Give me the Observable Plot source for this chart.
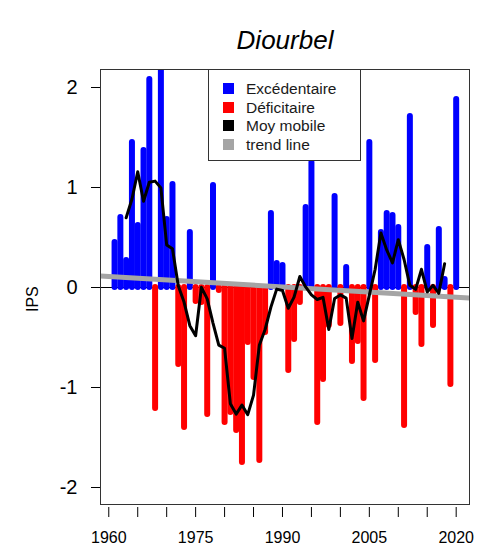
<!DOCTYPE html>
<html>
<head>
<meta charset="utf-8">
<script src="https://cdn.jsdelivr.net/npm/d3@7"></script>
<script src="https://cdn.jsdelivr.net/npm/@observablehq/plot@0.6"></script>
<style>
  body { margin: 0; background: white; }
  #wrap { position: relative; width: 481px; height: 555px; font-family: "Liberation Sans", Arial, sans-serif; }
  #legend { position: absolute; left: 208px; top: 69px; width: 153px; height: 92px; box-sizing: border-box;
            border: 1px solid #333; background: white; }
  .row { position: absolute; left: 0; height: 18px; line-height: 18px; font-size: 15.5px; color: #1a1a1a; }
  .sw { position: absolute; left: 14px; top: 3px; width: 11px; height: 11px; }
  .lab { position: absolute; left: 37px; top: 0; white-space: nowrap; }
</style>
</head>
<body>
<div id="wrap"></div>
<script>
const years = [1961,1962,1963,1964,1965,1966,1967,1968,1969,1970,
               1971,1972,1973,1974,1975,1976,1977,1978,1979,1980,
               1981,1982,1983,1984,1985,1986,1987,1988,1989,1990,
               1991,1992,1993,1994,1995,1996,1997,1998,1999,2000,
               2001,2002,2003,2004,2005,2006,2007,2008,2009,2010,
               2011,2012,2013,2014,2015,2016,2017,2018,2019,2020];
const ips = [0.45,0.70,0.27,1.45,0.62,1.37,2.08,-1.21,2.40,0.68,
             1.03,-0.77,-1.40,0.55,-0.14,-0.15,-1.27,1.02,-0.03,-1.35,
             -1.25,-1.43,-1.75,-0.55,-0.90,-1.73,-0.45,0.74,0.24,0.22,
             -0.83,-0.52,-0.15,0.80,1.25,-1.35,-0.92,-0.38,0.91,-0.36,
             0.20,-0.74,-0.54,-1.11,1.45,-0.73,0.55,0.74,0.72,0.60,
             -1.38,1.71,-0.25,-0.57,0.40,-0.38,0.58,0.08,-0.97,1.88];
const trendYears = [1958.57, 2022.3];
const trendValues = [0.115, -0.105];
const xTicks = [1960,1965,1970,1975,1980,1985,1990,1995,2000,2005,2010,2015,2020];
const xTickLabels = [1960,1975,1990,2005,2020];
const yTicks = [-2,-1,0,1,2];
const legendItems = ["Excédentaire","Déficitaire","Moy mobile","trend line"];
const legendColors = ["blue","red","black","#a5a5a5"];
const title = "Diourbel";
const yLabel = "IPS";

const data = years.map((year, i) => ({year, v: ips[i]}));
const pos = data.filter(d => d.v >= 0);
const neg = data.filter(d => d.v < 0);
const trend = trendYears.map((year, i) => ({year, v: trendValues[i]}));

const chart = Plot.plot({
  width: 481,
  height: 555,
  marginLeft: 100,
  marginRight: 12,
  marginTop: 69,
  marginBottom: 51,
  x: {domain: [1958.57, 2022.3]},
  y: {domain: [-2.17, 2.18]},
  style: {fontFamily: "'Liberation Sans', Arial, sans-serif", color: "black", background: "white", overflow: "visible"},
  marks: [
    Plot.ruleY([0], {stroke: "black", strokeWidth: 1}),
    Plot.ruleX(pos, {x: "year", y1: 0, y2: "v", stroke: "blue", strokeWidth: 6, strokeLinecap: "round", clip: true}),
    Plot.ruleX(neg, {x: "year", y1: 0, y2: "v", stroke: "red", strokeWidth: 6, strokeLinecap: "round", clip: true}),
    Plot.line(trend, {x: "year", y: "v", stroke: "#a5a5a5", strokeWidth: 5, clip: true}),
    Plot.line(data, Plot.windowY({k: 5, anchor: "middle", strict: true, reduce: "mean"},
      {x: "year", y: "v", stroke: "black", strokeWidth: 3, strokeLinejoin: "round"})),
    Plot.frame({stroke: "#333"}),
    Plot.axisY({ticks: yTicks, tickSize: 9, tickPadding: 14, fontSize: 20, tickFormat: d => String(d), label: null}),
    Plot.axisX({ticks: xTicks, tickSize: 10, tickPadding: 14, fontSize: 16, dy: 3,
      tickFormat: d => xTickLabels.includes(d) ? String(d) : "", label: null}),
    Plot.text([title], {frameAnchor: "top", dy: -39, fontSize: 26, fontStyle: "italic"}),
    Plot.text([yLabel], {frameAnchor: "left", dx: -68, dy: 25, rotate: -90, fontSize: 16})
  ]
});

const wrap = document.getElementById("wrap");
wrap.appendChild(chart);
const legend = document.createElement("div");
legend.id = "legend";
legendItems.forEach((t, i) => {
  const row = document.createElement("div");
  row.className = "row";
  row.style.top = (10 + i * 18.5) + "px";
  row.innerHTML = `<span class="sw" style="background:${legendColors[i]}"></span><span class="lab">${t}</span>`;
  legend.appendChild(row);
});
wrap.appendChild(legend);
</script>
</body>
</html>
